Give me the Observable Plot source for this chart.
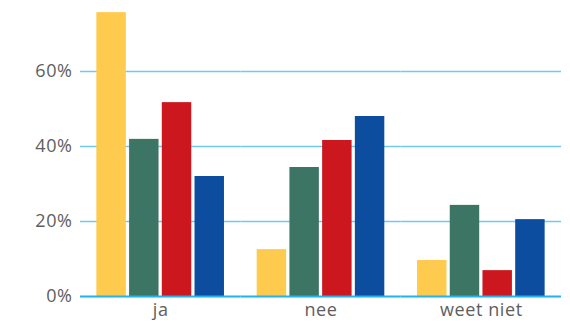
<!DOCTYPE html>
<html>
<head>
<meta charset="utf-8">
<script src="https://cdn.jsdelivr.net/npm/d3@7"></script>
<script src="https://cdn.jsdelivr.net/npm/@observablehq/plot@0.6"></script>
<style>
  html, body { margin: 0; padding: 0; background: #fff; }
  #chart svg { display: block; }
  #chart svg text { letter-spacing: 0.6px; }
</style>
</head>
<body>
<div id="chart"></div>
<script>
const categories = ["ja", "nee", "weet niet"];
const series = ["s1", "s2", "s3", "s4"];
const colors = ["#FECB4E", "#3D7565", "#CC171E", "#0C4DA0"];
const values = {
  s1: [0.757, 0.125, 0.096],
  s2: [0.419, 0.344, 0.243],
  s3: [0.517, 0.416, 0.069],
  s4: [0.320, 0.480, 0.205]
};
const yTicks = [0, 0.2, 0.4, 0.6];

const data = [];
categories.forEach((c, i) => {
  series.forEach(s => data.push({ category: c, series: s, value: values[s][i] }));
});

const font = "'Open Sans', 'DejaVu Sans', sans-serif";

const chart = Plot.plot({
  width: 570,
  height: 324,
  marginLeft: 80,
  marginRight: 9,
  marginTop: 11,
  marginBottom: 28,
  style: { fontFamily: font, fontSize: "18px", color: "#5e5e5e", background: "#fff" },
  fx: { domain: categories, padding: 0, round: false, label: null, axis: "bottom", tickSize: 0, tickPadding: 7 },
  x: { domain: series, paddingInner: 0.1, paddingOuter: 0.5, round: false, axis: null },
  y: { domain: [0, 0.76], axis: null },
  color: { domain: series, range: colors },
  marks: [
    Plot.ruleY(yTicks.filter(d => d > 0), { stroke: "#6DCBF0", strokeWidth: 1.6 }),
    Plot.axisY(yTicks, { anchor: "left", tickSize: 0, tickPadding: 8, tickFormat: d => Math.round(d * 100) + "%", label: null, fontSize: 18, fill: "#5e5e5e", facetAnchor: "left" }),
    Plot.barY(data, { fx: "category", x: "series", y: "value", fill: "series" }),
    Plot.ruleY([0], { stroke: "#1EB4EC", strokeWidth: 2 })
  ]
});
document.getElementById("chart").appendChild(chart);
</script>
</body>
</html>
